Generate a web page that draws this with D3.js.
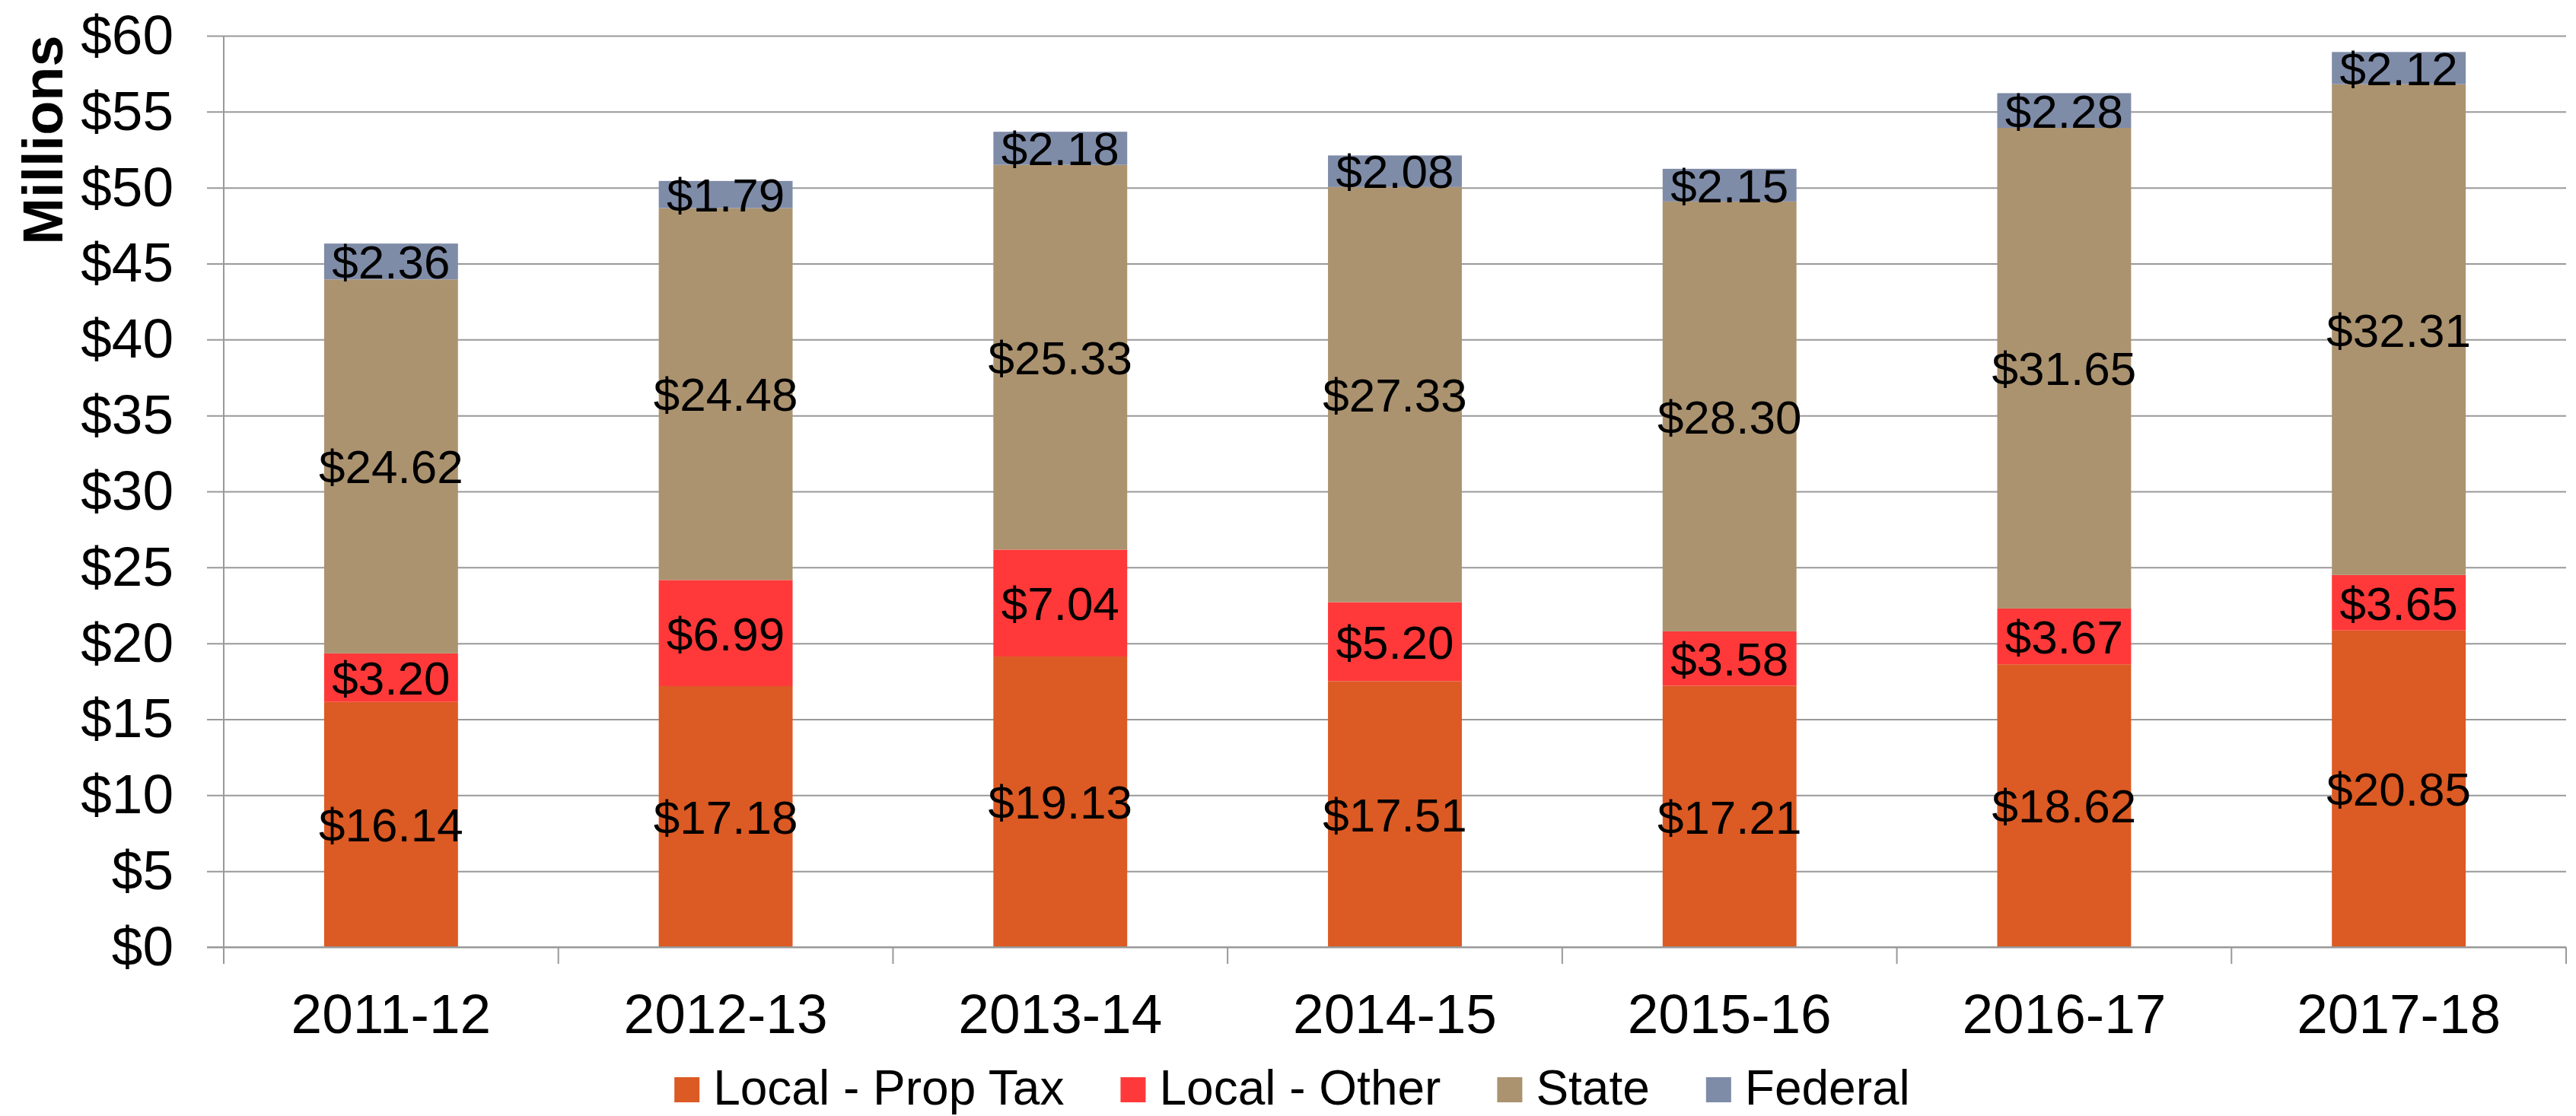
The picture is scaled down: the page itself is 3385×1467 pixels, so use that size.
<!DOCTYPE html>
<html>
<head>
<meta charset="utf-8">
<script src="https://cdn.jsdelivr.net/npm/d3@7"></script>
<style>
  html, body { margin: 0; padding: 0; background: #fff; }
  svg { display: block; font-family: "Liberation Sans", Arial, sans-serif; }
</style>
</head>
<body>
<svg id="chart" width="3385" height="1467"></svg>
<script>
const categories = ["2011-12", "2012-13", "2013-14", "2014-15", "2015-16", "2016-17", "2017-18"];
const seriesNames = ["Local - Prop Tax", "Local - Other", "State", "Federal"];
const propTax = [16.14, 17.18, 19.13, 17.51, 17.21, 18.62, 20.85];
const localOther = [3.20, 6.99, 7.04, 5.20, 3.58, 3.67, 3.65];
const stateVals = [24.62, 24.48, 25.33, 27.33, 28.30, 31.65, 32.31];
const federal = [2.36, 1.79, 2.18, 2.08, 2.15, 2.28, 2.12];
const yTicks = [0, 5, 10, 15, 20, 25, 30, 35, 40, 45, 50, 55, 60];
const colors = ["#DC5A23", "#FF3939", "#AB9370", "#7F8CA8"];

(function () {
const svg = d3.select("#chart");
const plotL = 294, plotR = 3372, plotT = 47, plotB = 1245;
const gridColor = "#999999";

const x = d3.scaleBand().domain(categories).range([plotL, plotR]).padding(0);
const y = d3.scaleLinear().domain([0, 60]).range([plotB, plotT]);

const rows = categories.map((c, i) => ({
  cat: c,
  "Local - Prop Tax": propTax[i],
  "Local - Other": localOther[i],
  "State": stateVals[i],
  "Federal": federal[i]
}));
const stack = d3.stack().keys(seriesNames)(rows);

// gridlines + y axis
const yAxis = d3.axisLeft(y).tickValues(yTicks)
  .tickSize(-(plotR - plotL + 22)).tickPadding(44)
  .tickFormat(d => "$" + d);
const gy = svg.append("g").attr("transform", `translate(${plotL - 22},0)`).call(yAxis);
gy.select(".domain").remove();
gy.selectAll(".tick line").attr("stroke", gridColor).attr("stroke-width", 2);
gy.selectAll(".tick text").attr("font-size", 73).attr("fill", "#000")
  .attr("font-family", "'Liberation Sans', Arial, sans-serif");

// vertical axis line
svg.append("line").attr("x1", plotL).attr("x2", plotL).attr("y1", plotT).attr("y2", plotB + 22)
  .attr("stroke", gridColor).attr("stroke-width", 2);

// x axis ticks at category boundaries
const bounds = categories.map(c => x(c)).concat([plotR]);
svg.append("g").selectAll("line").data(bounds).join("line")
  .attr("x1", d => d).attr("x2", d => d).attr("y1", plotB).attr("y2", plotB + 22)
  .attr("stroke", gridColor).attr("stroke-width", 2);

// bars
const bw = x.bandwidth() * 0.4;
const off = x.bandwidth() * 0.3;
const layers = svg.append("g").selectAll("g").data(stack).join("g")
  .attr("fill", (d, i) => colors[i]);
layers.selectAll("rect").data(d => d).join("rect")
  .attr("x", d => x(d.data.cat) + off)
  .attr("width", bw)
  .attr("y", d => y(d[1]))
  .attr("height", d => y(d[0]) - y(d[1]));

// baseline drawn over bars
svg.append("line").attr("x1", plotL - 22).attr("x2", plotR).attr("y1", plotB).attr("y2", plotB)
  .attr("stroke", gridColor).attr("stroke-width", 2);

// data labels
const lab = svg.append("g");
stack.forEach(layer => {
  layer.forEach(d => {
    lab.append("text")
      .attr("x", x(d.data.cat) + x.bandwidth() / 2)
      .attr("y", y((d[0] + d[1]) / 2))
      .attr("dy", "0.36em")
      .attr("text-anchor", "middle")
      .attr("font-size", 62)
      .attr("fill", "#000")
      .text("$" + (d[1] - d[0]).toFixed(2));
  });
});

// x labels
svg.append("g").selectAll("text").data(categories).join("text")
  .attr("x", d => x(d) + x.bandwidth() / 2)
  .attr("y", 1358)
  .attr("text-anchor", "middle")
  .attr("font-size", 73)
  .attr("fill", "#000")
  .text(d => d);

// y title
svg.append("text")
  .attr("transform", "translate(82,184) rotate(-90)")
  .attr("text-anchor", "middle")
  .attr("font-size", 74)
  .attr("font-weight", "bold")
  .attr("fill", "#000")
  .text("Millions");

// legend
const lg = svg.append("g");
const items = seriesNames.map((name, i) => {
  const g = lg.append("g");
  g.append("rect").attr("x", 0).attr("y", 1416).attr("width", 33).attr("height", 33).attr("fill", colors[i]);
  const t = g.append("text").attr("x", 51).attr("y", 1452).attr("font-size", 64).attr("fill", "#000").text(name);
  return { g, w: 51 + t.node().getComputedTextLength() };
});
const gap = 74;
const total = d3.sum(items, d => d.w) + gap * (items.length - 1);
let cx = 1698 - total / 2;
items.forEach(it => { it.g.attr("transform", `translate(${cx},0)`); cx += it.w + gap; });
})();
</script>
</body>
</html>
